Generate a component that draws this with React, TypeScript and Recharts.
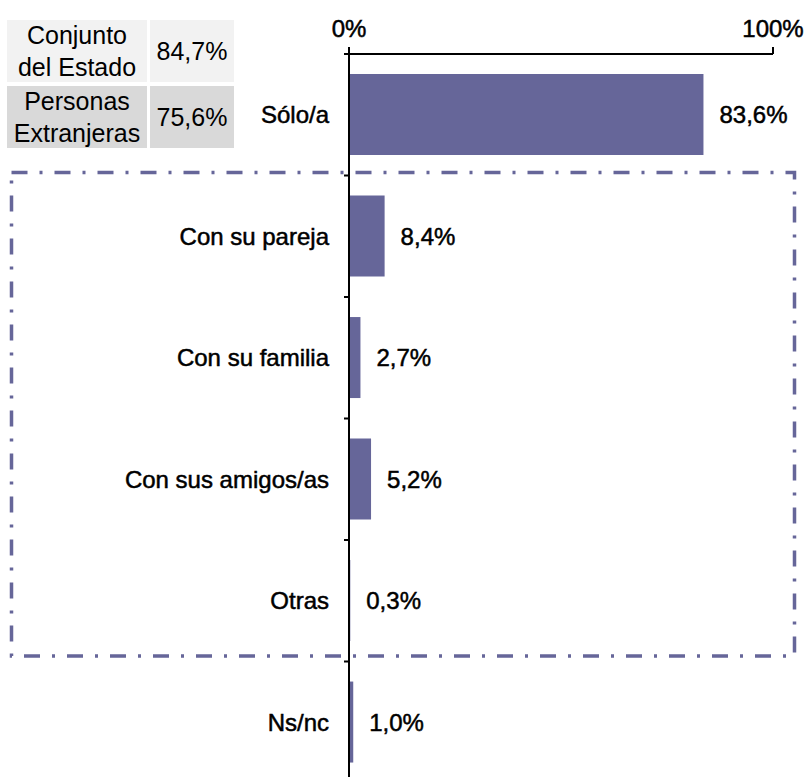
import React from "react"
import { BarChart, Bar, XAxis, YAxis, LabelList } from "recharts"

// categories and values
const categories = ["Sólo/a", "Con su pareja", "Con su familia", "Con sus amigos/as", "Otras", "Ns/nc"]
const values = [83.6, 8.4, 2.7, 5.2, 0.3, 1.0]
const xTicks = [0, 100]

// small comparison table in the top-left corner
const tableLabels = [["Conjunto", "del Estado"], ["Personas", "Extranjeras"]]
const tableValues = ["84,7%", "75,6%"]
const tableFills = ["#f2f2f2", "#d9d9d9"]

const data = categories.map((name, i) => ({ name, value: values[i] }))

const FONT = "'Liberation Sans', Arial, sans-serif"
const BAR = "#666699"

const W = 805
const H = 790
const M = { top: 24, right: 32, bottom: 7, left: 149 }
const X_AXIS_H = 30
const Y_AXIS_W = 200
const PLOT_TOP = M.top + X_AXIS_H
const BAND = (H - PLOT_TOP - M.bottom) / categories.length

const pct = (v: number) => `${v.toFixed(1).replace(".", ",")}%`

function CategoryTick(props: any) {
  const { y, payload } = props
  const axisX = M.left + Y_AXIS_W
  const top = y - BAND / 2
  return (
    <g>
      <line x1={axisX - 5} x2={axisX} y1={top} y2={top} stroke="#000" strokeWidth={2} />
      <text
        x={axisX - 20}
        y={y}
        textAnchor="end"
        dominantBaseline="central"
        fontFamily={FONT}
        fontSize={24}
        fill="#000"
        stroke="#000"
        strokeWidth={0.5}
      >
        {payload.value}
      </text>
    </g>
  )
}

function ValueLabel(props: any) {
  const { x, y, width, height, value } = props
  return (
    <text
      x={x + width + 16}
      y={y + height / 2}
      dominantBaseline="central"
      fontFamily={FONT}
      fontSize={24}
      fill="#000"
      stroke="#000"
      strokeWidth={0.5}
    >
      {pct(value)}
    </text>
  )
}

function Table() {
  return (
    <>
      {tableLabels.map((lines, i) => {
        const top = 20 + i * 66
        const cell: React.CSSProperties = {
          position: "absolute",
          top,
          height: 62,
          background: tableFills[i],
          display: "flex",
          flexDirection: "column",
          alignItems: "center",
          justifyContent: "center",
          fontFamily: FONT,
          fontSize: 25,
          lineHeight: "32px",
          color: "#000",
        }
        return (
          <React.Fragment key={i}>
            <div style={{ ...cell, left: 7, width: 140 }}>
              {lines.map((l) => (
                <span key={l}>{l}</span>
              ))}
            </div>
            <div style={{ ...cell, left: 150, width: 84 }}>{tableValues[i]}</div>
          </React.Fragment>
        )
      })}
    </>
  )
}

export default function App() {
  return (
    <div style={{ position: "absolute", left: 0, top: 0, width: W, height: 777, overflow: "hidden", background: "#fff" }}>
      <BarChart
        width={W}
        height={H}
        data={data}
        layout="vertical"
        margin={M}
        barCategoryGap="16.5%"
      >
        <XAxis
          type="number"
          orientation="top"
          domain={[0, 100]}
          ticks={xTicks}
          height={X_AXIS_H}
          tickFormatter={(v) => `${v}%`}
          axisLine={{ stroke: "#000", strokeWidth: 2 }}
          tickLine={{ stroke: "#000", strokeWidth: 2 }}
          tickSize={7}
          tickMargin={10}
          tick={{ fill: "#000", stroke: "#000", strokeWidth: 0.5, fontSize: 24, fontFamily: FONT }}
        />
        <YAxis
          type="category"
          dataKey="name"
          width={Y_AXIS_W}
          interval={0}
          axisLine={{ stroke: "#000", strokeWidth: 2 }}
          tickLine={false}
          tick={<CategoryTick />}
        />
        <Bar dataKey="value" fill={BAR} isAnimationActive={false}>
          <LabelList dataKey="value" content={<ValueLabel />} />
        </Bar>
      </BarChart>
      <Table />
      <svg
        width={W}
        height={777}
        style={{ position: "absolute", left: 0, top: 0, pointerEvents: "none" }}
      >
        <rect
          x={11.5}
          y={172.5}
          width={783}
          height={483.5}
          fill="none"
          stroke={BAR}
          strokeWidth={3.5}
          strokeDasharray="16 12 3 12"
        />
      </svg>
    </div>
  )
}
